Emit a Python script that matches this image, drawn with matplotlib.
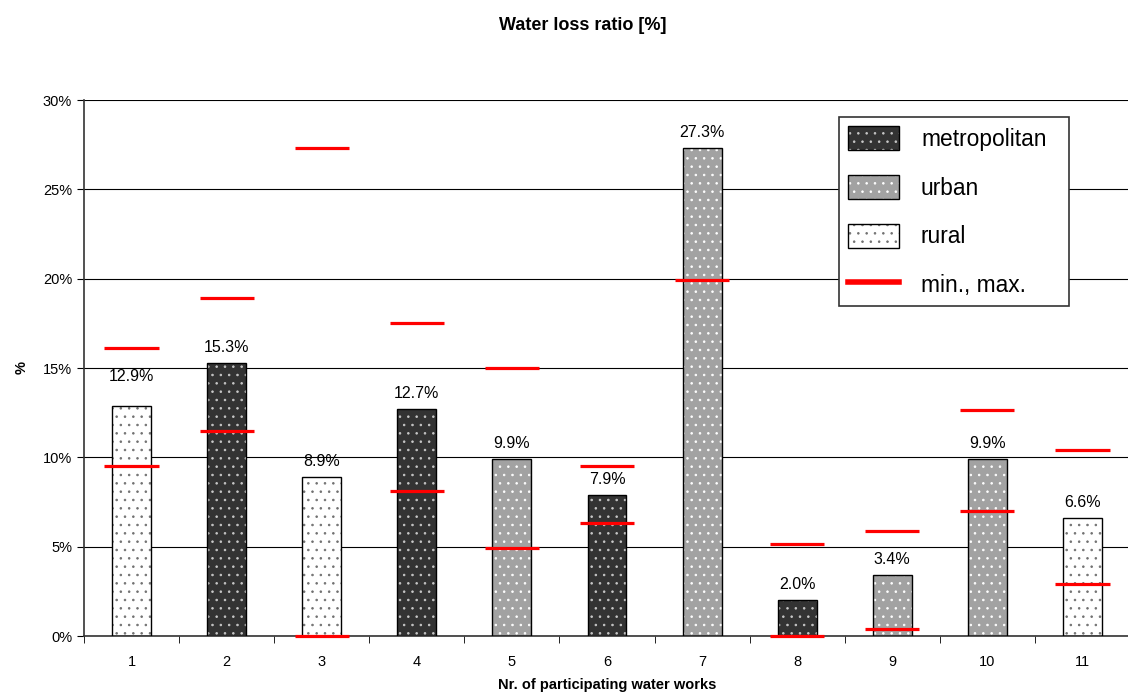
import numpy as np
import matplotlib
matplotlib.use('Agg')
import matplotlib.pyplot as plt
from matplotlib.patches import Patch
from matplotlib.lines import Line2D
from matplotlib.legend_handler import HandlerTuple

plt.rcParams['font.family'] = ['Liberation Sans', 'DejaVu Sans']
plt.rcParams['hatch.linewidth'] = 0.6

# Data
works = ['1', '2', '3', '4', '5', '6', '7', '8', '9', '10', '11']
loss = [12.9, 15.3, 8.9, 12.7, 9.9, 7.9, 27.3, 2.0, 3.4, 9.9, 6.6]
kind = ['rural', 'metropolitan', 'rural', 'metropolitan', 'urban', 'metropolitan',
        'urban', 'metropolitan', 'urban', 'urban', 'rural']
loss_min = [9.5, 11.5, 0.0, 8.1, 4.9, 6.3, 19.9, 0.0, 0.4, 7.0, 2.9]
loss_max = [16.1, 18.9, 27.3, 17.5, 15.0, 9.5, np.nan, 5.15, 5.9, 12.65, 10.4]

# face colour, dot colour
styles = {
    'metropolitan': ('#333333', '#c8c8c8'),
    'urban': ('#a2a2a2', 'white'),
    'rural': ('white', '#707070'),
}

fig = plt.figure(figsize=(11.28, 6.95), dpi=100)
ax = fig.add_axes([84 / 1128, 1 - 636 / 695, 1046 / 1128, 536 / 695])

x = np.arange(len(works))
for i, (xi, v, k) in enumerate(zip(x, loss, kind)):
    fc, hc = styles[k]
    ax.bar(xi, v, width=0.41, color=fc, edgecolor=hc, hatch='..', linewidth=0, zorder=2)
    ax.bar(xi, v, width=0.41, fill=False, edgecolor='black', linewidth=1, zorder=3)
    # the first label sits a bit higher in the original
    off = 1.2 if i == 0 else 0.45
    ax.text(xi, v + off, f'{v:.1f}%', ha='center', va='bottom', fontsize=11.5)

ax.hlines(loss_min, x - 0.285, x + 0.285, color='red', linewidth=2.3, zorder=4, clip_on=False)
ax.hlines(loss_max, x - 0.285, x + 0.285, color='red', linewidth=2.3, zorder=4, clip_on=False)

ax.set_xlim(-0.5, len(works) - 0.5)
ax.set_ylim(0, 30)
ax.set_yticks(np.arange(0, 31, 5))
ax.set_yticklabels([f'{t}%' for t in range(0, 31, 5)])
ax.set_xticks(x)
ax.set_xticklabels(works)
ax.set_xticks(np.arange(-0.5, len(works), 1), minor=True)
ax.tick_params(axis='x', which='major', length=0, pad=14, labelsize=10.5)
ax.tick_params(axis='x', which='minor', length=5, direction='out')
ax.tick_params(axis='y', length=5, direction='out', labelsize=10.5)
ax.yaxis.grid(True, color='black', linewidth=0.8, zorder=0)
ax.set_axisbelow(True)
for s in ['top', 'right']:
    ax.spines[s].set_visible(False)
for s in ['left', 'bottom']:
    ax.spines[s].set_color('#333333')
    ax.spines[s].set_linewidth(1.2)

ax.set_xlabel('Nr. of participating water works', fontsize=10.5, fontweight='bold', labelpad=6)
ax.set_ylabel('%', fontsize=10.5, fontweight='bold', labelpad=10)
fig.text(583 / 1128, 1 - 25 / 695, 'Water loss ratio [%]', ha='center', va='center',
         fontsize=13, fontweight='bold')

handles = []
for k in ['metropolitan', 'urban', 'rural']:
    fc, hc = styles[k]
    handles.append((Patch(facecolor=fc, edgecolor=hc, hatch='..', linewidth=0),
                    Patch(fill=False, edgecolor='black', linewidth=1)))
handles.append(Line2D([], [], color='red', linewidth=4))
labels = ['metropolitan', 'urban', 'rural', 'min., max.']
leg_top = 1 - 17 / 536
leg = ax.legend(handles, labels, handler_map={tuple: HandlerTuple(ndivide=1)},
                loc='upper left', bbox_to_anchor=(755 / 1046, leg_top - 0.4, 230 / 1046, 0.4),
                mode='expand', fontsize=16.4,
                handlelength=2.24, handleheight=1.27, labelspacing=1.05,
                handletextpad=0.96, borderpad=0.4, borderaxespad=0,
                fancybox=False, framealpha=1, edgecolor='#333333')
leg.get_frame().set_linewidth(1.2)

fig.savefig('out.png', dpi=100)
